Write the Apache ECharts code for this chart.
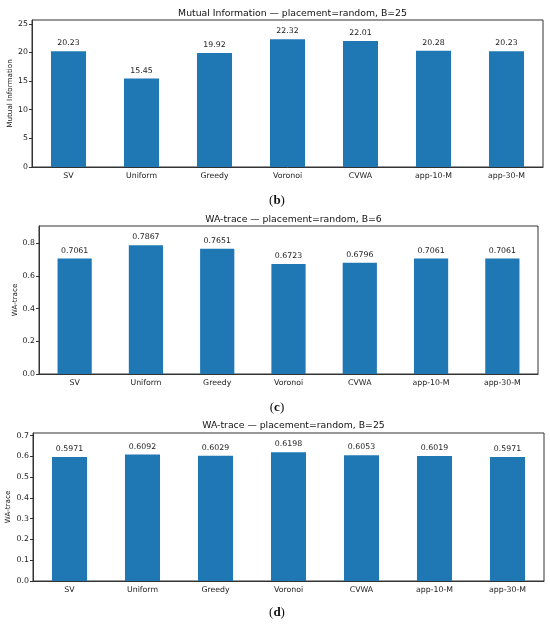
<!DOCTYPE html>
<html>
<head>
<meta charset="utf-8">
<script src="https://cdn.jsdelivr.net/npm/echarts@6/dist/echarts.min.js"></script>
<style>html,body{margin:0;padding:0;background:#fff}#c{width:550px;height:624px}</style>
</head>
<body>
<div id="c"></div>
<script>
const categories = ['SV', 'Uniform', 'Greedy', 'Voronoi', 'CVWA', 'app-10-M', 'app-30-M'];
const miB25 = [20.23, 15.45, 19.92, 22.32, 22.01, 20.28, 20.23];
const waB6 = [0.7061, 0.7867, 0.7651, 0.6723, 0.6796, 0.7061, 0.7061];
const waB25 = [0.5971, 0.6092, 0.6029, 0.6198, 0.6053, 0.6019, 0.5971];
const ticksMI = [0, 5, 10, 15, 20, 25];
const ticksB6 = [0, 0.2, 0.4, 0.6, 0.8];
const ticksB25 = [0, 0.1, 0.2, 0.3, 0.4, 0.5, 0.6, 0.7];
const titles = ['Mutual Information — placement=random, B=25', 'WA-trace — placement=random, B=6', 'WA-trace — placement=random, B=25'];
const yNames = ['Mutual Information', 'WA-trace', 'WA-trace'];
const panelTags = ['b', 'c', 'd'];

const FONT = 'DejaVu Sans';
const grids = [
  {left: 32, right: 7, top: 20, height: 147},
  {left: 39, right: 12, top: 226, height: 148},
  {left: 33, right: 6, top: 433, height: 148}
];
const series = [miB25, waB6, waB25];
const ticks = [ticksMI, ticksB6, ticksB25];
const decimals = [2, 4, 4];
const tickDec = [0, 1, 1];
const nameGaps = [18, 20, 21];
const titleTops = [4, 210, 416];
const tagTops = [189, 396, 601];

const option = {
  animation: false,
  backgroundColor: '#fff',
  title: [],
  grid: grids.map(g => Object.assign({show: true, borderColor: '#333', borderWidth: 1, backgroundColor: 'transparent', containLabel: false, outerBoundsMode: 'none'}, g)),
  xAxis: [],
  yAxis: [],
  series: []
};

for (let i = 0; i < 3; i++) {
  const g = grids[i];
  const cx = g.left + (550 - g.left - g.right) / 2;
  option.title.push({
    text: titles[i], left: cx, top: titleTops[i], textAlign: 'center',
    textStyle: {fontFamily: FONT, fontSize: 9.3, fontWeight: 'normal', color: '#111'}
  });
  option.title.push({
    text: '({b|' + panelTags[i] + '})', left: 272, top: tagTops[i], textAlign: 'center',
    textStyle: {fontFamily: 'Liberation Serif', fontSize: 13, fontWeight: 'normal', color: '#111',
      rich: {b: {fontFamily: 'Liberation Serif', fontSize: 13, fontWeight: 'bold', color: '#111'}}}
  });
  const vmax = Math.max(...series[i]) * 1.15;
  option.xAxis.push({
    type: 'category', gridIndex: i, data: categories,
    axisLine: {lineStyle: {color: '#333', width: 1}},
    axisTick: {alignWithLabel: true, length: 3, lineStyle: {color: '#333'}},
    axisLabel: {fontFamily: FONT, fontSize: 7.8, color: '#222', margin: 5}
  });
  option.yAxis.push({
    type: 'value', gridIndex: i, min: 0, max: vmax,
    name: yNames[i], nameLocation: 'middle', nameGap: nameGaps[i], nameMoveOverlap: false,
    nameTextStyle: {fontFamily: FONT, fontSize: 7.2, color: '#222'},
    splitLine: {show: false},
    axisLine: {show: true, lineStyle: {color: '#333', width: 1}},
    axisTick: {show: true, length: 3, lineStyle: {color: '#333'}, customValues: ticks[i]},
    axisLabel: {fontFamily: FONT, fontSize: 7.8, color: '#222', margin: 4,
      customValues: ticks[i], formatter: v => Number(v).toFixed(tickDec[i])}
  });
  option.series.push({
    type: 'bar', xAxisIndex: i, yAxisIndex: i, data: series[i], barWidth: '48%',
    itemStyle: {color: '#1f77b4'},
    label: {show: true, position: 'top', distance: 4, fontFamily: FONT, fontSize: 7.8, color: '#222',
      formatter: p => Number(p.value).toFixed(decimals[i])}
  });
}

echarts.init(document.getElementById('c')).setOption(option);
</script>
</body>
</html>
